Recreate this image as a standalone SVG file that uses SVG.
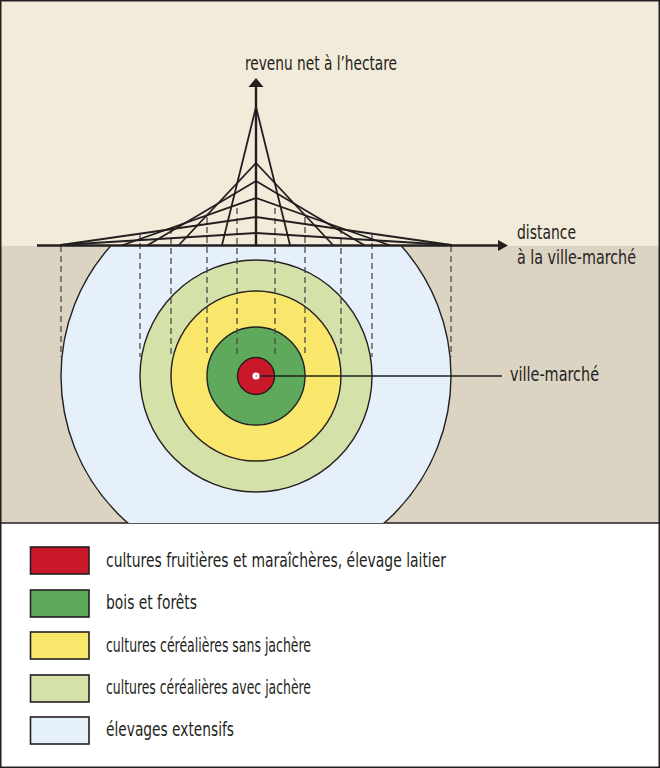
<svg xmlns="http://www.w3.org/2000/svg" width="660" height="768" viewBox="0 0 660 768">
<style>
text{font-family:"Liberation Sans Narrow","DejaVu Sans Condensed","Liberation Sans",sans-serif;font-size:20px;fill:#231f20}
.ring{stroke:#231f20;stroke-width:1.4}
.mesh{stroke:#231f20;stroke-width:1.8;fill:none;stroke-linecap:round;stroke-linejoin:miter}
.dash{stroke:#4a4a4a;stroke-width:1.3;stroke-dasharray:6 4;fill:none}
.box{stroke:#231f20;stroke-width:1.6}
</style>
<defs>
<clipPath id="mid"><rect x="0" y="246" width="660" height="277"/></clipPath>
</defs>
<rect x="0" y="0" width="660" height="246" fill="#f3ebd9"/>
<rect x="0" y="246" width="660" height="277" fill="#dcd4c3"/>
<rect x="0" y="523" width="660" height="245" fill="#ffffff"/>
<line x1="0" y1="523" x2="660" y2="523" stroke="#231f20" stroke-width="1.5"/>

<g id="rings" clip-path="url(#mid)">
<circle id="ring-blue" class="ring" cx="256" cy="376" r="195" fill="#e6f0fa"/>
<circle id="ring-lightgreen" class="ring" cx="256" cy="376" r="116" fill="#d4e2a9"/>
<circle id="ring-yellow" class="ring" cx="256" cy="376" r="85" fill="#f8e76b"/>
<circle id="ring-green" class="ring" cx="256" cy="376" r="49" fill="#5ea95c"/>
<circle id="ring-red" class="ring" cx="256" cy="376" r="18.5" fill="#c8182a"/>
</g>

<g id="connectors">
<g id="dashes">
<line class="dash" x1="237" y1="208" x2="237" y2="357"/>
<line class="dash" x1="275" y1="208" x2="275" y2="357"/>
<line class="dash" x1="207" y1="217" x2="207" y2="357"/>
<line class="dash" x1="305" y1="217" x2="305" y2="357"/>
<line class="dash" x1="171" y1="228" x2="171" y2="357"/>
<line class="dash" x1="341" y1="228" x2="341" y2="357"/>
<line class="dash" x1="140" y1="233" x2="140" y2="357"/>
<line class="dash" x1="372" y1="233" x2="372" y2="357"/>
<line class="dash" x1="61" y1="246" x2="61" y2="357"/>
<line class="dash" x1="451" y1="246" x2="451" y2="357"/>
</g>
<g id="mesh">
<polyline class="mesh" points="222,245 256,107 290,245"/>
<polyline class="mesh" points="179,245 256,163 333,245"/>
<polyline class="mesh" points="148,245 256,181 364,245"/>
<polyline class="mesh" points="123,245 256,198 389,245"/>
<polyline class="mesh" points="61,245 256,217 451,245"/>
<polyline class="mesh" points="61,245 256,233 451,245"/>
</g>
<g id="axes">
<line x1="256" y1="245" x2="256" y2="86" stroke="#231f20" stroke-width="2.4"/>
<polygon points="256,78 263.5,87 248.5,87" fill="#231f20"/>
<line x1="37" y1="245.5" x2="499" y2="245.5" stroke="#231f20" stroke-width="2.4"/>
<polygon points="508,245.5 498,240 498,251" fill="#231f20"/>
</g>
<line id="town-leader" x1="259" y1="376" x2="502" y2="376" stroke="#231f20" stroke-width="1.4"/>
</g>

<g id="town">
<circle cx="256" cy="376" r="3.6" fill="#ffffff"/>
<circle cx="256.5" cy="376" r="1.2" fill="#e9a0a6"/>
</g>

<g id="labels">
<text x="245" y="70" textLength="152" lengthAdjust="spacingAndGlyphs">revenu net à l’hectare</text>
<text x="517" y="239" textLength="59" lengthAdjust="spacingAndGlyphs">distance</text>
<text x="517" y="264" font-size="19" textLength="119" lengthAdjust="spacingAndGlyphs">à la ville-marché</text>
<text x="510" y="381" textLength="89" lengthAdjust="spacingAndGlyphs">ville-marché</text>
</g>

<g id="legend">
<g id="leg-red"><rect class="box" x="30.5" y="547" width="58.5" height="27" fill="#c8182a"/><text x="106" y="567" textLength="340" lengthAdjust="spacingAndGlyphs">cultures fruitières et maraîchères, élevage laitier</text></g>
<g id="leg-green"><rect class="box" x="30.5" y="590" width="58.5" height="27" fill="#5ea95c"/><text x="106" y="609" textLength="91" lengthAdjust="spacingAndGlyphs">bois et forêts</text></g>
<g id="leg-yellow"><rect class="box" x="30.5" y="632" width="58.5" height="27" fill="#f8e76b"/><text x="106" y="652" textLength="205" lengthAdjust="spacingAndGlyphs">cultures céréalières sans jachère</text></g>
<g id="leg-lightgreen"><rect class="box" x="30.5" y="675" width="58.5" height="27" fill="#d4e2a9"/><text x="106" y="694" textLength="205" lengthAdjust="spacingAndGlyphs">cultures céréalières avec jachère</text></g>
<g id="leg-blue"><rect class="box" x="30.5" y="717" width="58.5" height="27" fill="#e6f0fa"/><text x="106" y="736" textLength="128" lengthAdjust="spacingAndGlyphs">élevages extensifs</text></g>
</g>
<rect x="0.75" y="0.75" width="658.5" height="766.5" fill="none" stroke="#231f20" stroke-width="1.5"/>
</svg>
